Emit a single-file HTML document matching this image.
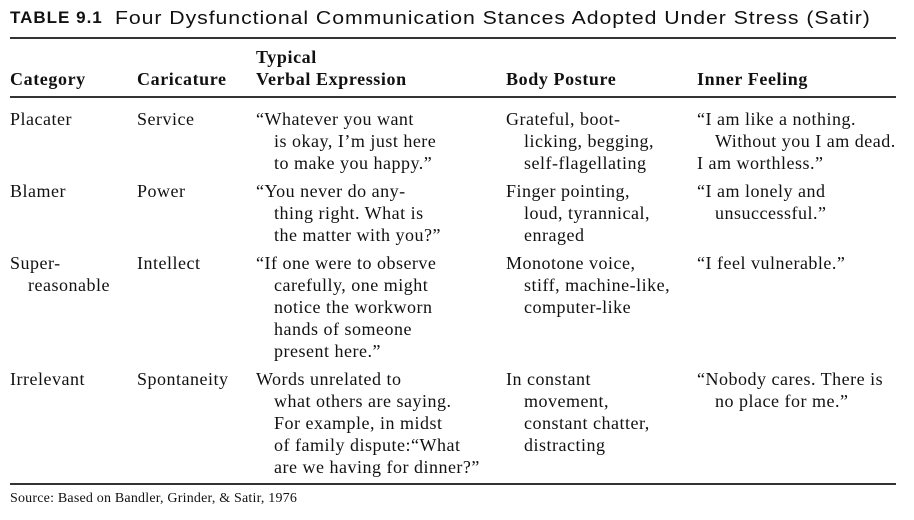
<!DOCTYPE html>
<html><head><meta charset="utf-8"><style>
body{margin:0;width:914px;height:520px;background:#fff;position:relative;overflow:hidden;font-family:"Liberation Serif",serif;color:#111;}
.a{position:absolute;font-size:18px;line-height:22px;white-space:nowrap;letter-spacing:0.5px;}
.i{padding-left:18px;}
.h{font-weight:bold;letter-spacing:0.6px;}
.r{position:absolute;left:10px;width:886px;background:#333;}
</style></head><body>
<div style="position:absolute;left:10px;top:8px;font-family:'Liberation Sans',sans-serif;font-size:17px;white-space:nowrap;font-weight:bold;letter-spacing:1px">TABLE 9.1</div>
<div style="position:absolute;left:115px;top:8px;font-family:'Liberation Sans',sans-serif;font-size:18px;white-space:nowrap;letter-spacing:0.8px;transform:scaleX(1.18);transform-origin:0 0">Four Dysfunctional Communication Stances Adopted Under Stress (Satir)</div>
<div class="r" style="top:37px;height:2px"></div>
<div class="a h" style="left:10px;top:68px">Category</div>
<div class="a h" style="left:137px;top:68px">Caricature</div>
<div class="a h" style="left:256px;top:46px">Typical<br>Verbal Expression</div>
<div class="a h" style="left:506px;top:68px">Body Posture</div>
<div class="a h" style="left:697px;top:68px">Inner Feeling</div>
<div class="r" style="top:96px;height:1.5px"></div>

<div class="a" style="left:10px;top:108px">Placater</div>
<div class="a" style="left:137px;top:108px">Service</div>
<div class="a" style="left:256px;top:108px">“Whatever you want<div class="i">is okay, I’m just here</div><div class="i">to make you happy.”</div></div>
<div class="a" style="left:506px;top:108px">Grateful, boot-<div class="i">licking, begging,</div><div class="i">self-flagellating</div></div>
<div class="a" style="left:697px;top:108px">“I am like a nothing.<div class="i">Without you I am dead.</div><div>I am worthless.”</div></div>

<div class="a" style="left:10px;top:180px">Blamer</div>
<div class="a" style="left:137px;top:180px">Power</div>
<div class="a" style="left:256px;top:180px">“You never do any-<div class="i">thing right. What is</div><div class="i">the matter with you?”</div></div>
<div class="a" style="left:506px;top:180px">Finger pointing,<div class="i">loud, tyrannical,</div><div class="i">enraged</div></div>
<div class="a" style="left:697px;top:180px">“I am lonely and<div class="i">unsuccessful.”</div></div>

<div class="a" style="left:10px;top:252px">Super-<div class="i">reasonable</div></div>
<div class="a" style="left:137px;top:252px">Intellect</div>
<div class="a" style="left:256px;top:252px">“If one were to observe<div class="i">carefully, one might</div><div class="i">notice the workworn</div><div class="i">hands of someone</div><div class="i">present here.”</div></div>
<div class="a" style="left:506px;top:252px">Monotone voice,<div class="i">stiff, machine-like,</div><div class="i">computer-like</div></div>
<div class="a" style="left:697px;top:252px">“I feel vulnerable.”</div>

<div class="a" style="left:10px;top:368px">Irrelevant</div>
<div class="a" style="left:137px;top:368px">Spontaneity</div>
<div class="a" style="left:256px;top:368px">Words unrelated to<div class="i">what others are saying.</div><div class="i">For example, in midst</div><div class="i">of family dispute:“What</div><div class="i">are we having for dinner?”</div></div>
<div class="a" style="left:506px;top:368px">In constant<div class="i">movement,</div><div class="i">constant chatter,</div><div class="i">distracting</div></div>
<div class="a" style="left:697px;top:368px">“Nobody cares. There is<div class="i">no place for me.”</div></div>

<div class="r" style="top:483px;height:1.5px"></div>
<div class="a" style="left:10px;top:490px;font-size:14px;line-height:18px;letter-spacing:0.2px">Source: Based on Bandler, Grinder, &amp; Satir, 1976</div>
</body></html>
